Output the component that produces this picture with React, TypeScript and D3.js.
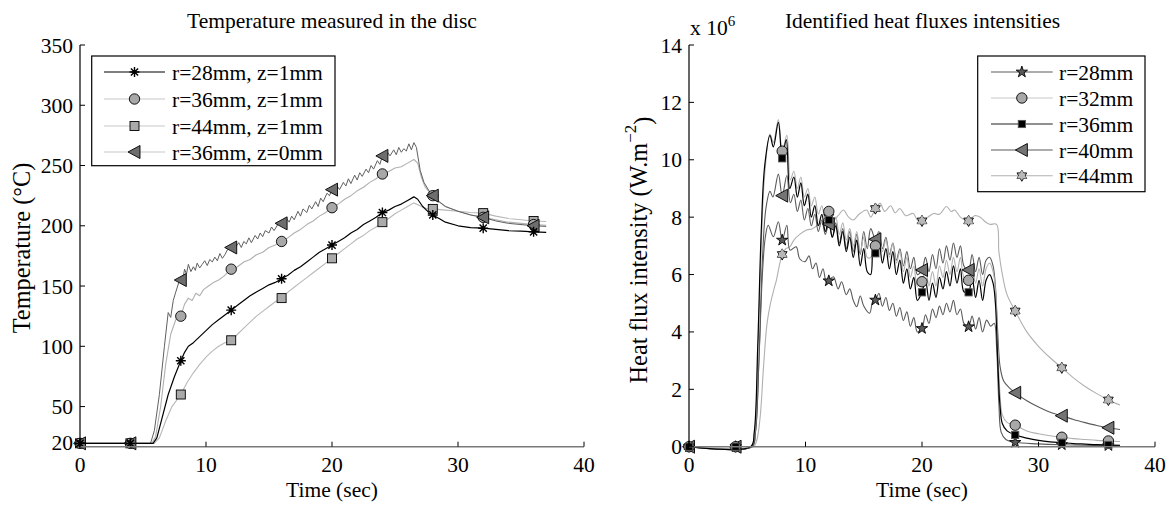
import React from "react";
import * as d3 from "d3";

type Pt = [number, number];

// ---------- Left chart: temperatures ----------
const markerTimes = [0, 4, 8, 12, 16, 20, 24, 28, 32, 36];
const leftYTicks = [20, 50, 100, 150, 200, 250, 300, 350];
const xTicks = [0, 10, 20, 30, 40];
const rightYTicks = [0, 2, 4, 6, 8, 10, 12, 14];

const tempLabels = ["r=28mm, z=1mm", "r=36mm, z=1mm", "r=44mm, z=1mm", "r=36mm, z=0mm"];

const tempR28z1: Pt[] = [[0,19.5],[5.8,19.5],[6.1,24],[6.5,40],[7,60],[7.5,75],[8,88],[8.3,95],[8.6,100],[9,103],[9.5,108],[10,113],[10.5,118],[11,122],[11.5,126],[12,130],[12.5,134],[13,138],[13.5,142],[14,145],[14.5,148],[15,151],[15.5,153],[16,156],[16.5,159],[17,163],[17.5,166],[18,170],[18.5,174],[19,178],[19.5,181],[20,184],[20.5,187],[21,190],[21.5,194],[22,197],[22.5,201],[23,204],[23.5,207],[24,211],[24.5,213],[25,216],[25.5,218],[26,221],[26.5,224],[26.8,222],[27.2,216],[27.6,212],[28,209],[28.5,206],[29,203],[30,200],[31,198.5],[32,198],[33,197],[34,196],[35,195.5],[36,195],[37,194.6]];
const tempR36z1: Pt[] = [[0,19.5],[5.7,19.5],[6.0,25],[6.4,50],[6.8,85],[7.2,110],[7.6,122],[8,125],[8.3,135],[8.6,140],[8.9,138],[9.2,144],[9.5,142],[9.8,147],[10.2,150],[10.6,153],[11,155],[11.4,158],[11.8,162],[12,164],[12.5,166],[13,170],[13.5,172],[14,176],[14.5,178],[15,182],[15.5,184],[16,187],[16.5,190],[17,194],[17.5,197],[18,201],[18.5,204],[19,208],[19.5,211],[20,215],[20.5,218],[21,222],[21.5,225],[22,229],[22.5,232],[23,236],[23.5,239],[24,243],[24.5,245],[25,248],[25.5,249],[26,252],[26.5,255],[26.8,252],[27.1,240],[27.4,232],[27.8,227],[28,225],[28.5,220],[29,216],[30,212],[31,209],[32,207],[33,205],[34,203],[35,202],[36,201],[37,200.5]];
const tempR44z1: Pt[] = [[0,19.5],[5.9,19.5],[6.3,24],[6.8,38],[7.3,50],[8,60],[8.5,70],[9,78],[9.5,85],[10,91],[10.5,96],[11,100],[11.5,103],[12,105],[12.5,110],[13,115],[13.5,120],[14,125],[14.5,129],[15,133],[15.5,137],[16,140],[16.5,145],[17,149],[17.5,153],[18,157],[18.5,161],[19,165],[19.5,169],[20,173],[20.5,177],[21,181],[21.5,185],[22,189],[22.5,192],[23,196],[23.5,199],[24,203],[24.5,206],[25,210],[25.5,213],[26,216],[26.5,219],[26.9,217],[27.3,215],[27.7,214],[28,214],[29,213],[30,212],[31,211],[32,210.5],[33,208],[34,206],[35,205],[36,204],[37,203.5]];
const tempR36z0: Pt[] = [[0,19.5],[5.6,19.5],[5.9,30],[6.3,60],[6.7,100],[7.0,128],[7.2,124],[7.4,138],[7.6,145],[7.9,155],[8.1,152],[8.3,164],[8.45,160],[8.6,168],[8.8,162],[9.0,166],[9.15,163],[9.3,169],[9.5,165],[9.7,168],[9.9,171],[10.1,167],[10.3,172],[10.5,170],[10.7,174],[10.9,171],[11.1,177],[11.3,173],[11.5,176],[11.7,180],[12,182],[12.2,178],[12.4,183],[12.6,186],[12.8,182],[13.0,187],[13.2,185],[13.4,190],[13.6,186],[13.9,192],[14.1,189],[14.3,194],[14.5,191],[14.7,196],[15,194],[15.2,199],[15.4,196],[15.7,201],[16,202],[16.2,200],[16.4,206],[16.6,203],[16.8,208],[17.0,205],[17.3,212],[17.5,208],[17.7,214],[18.0,211],[18.2,217],[18.4,214],[18.7,220],[18.9,216],[19.1,223],[19.3,220],[19.6,227],[19.8,225],[20,230],[20.2,227],[20.4,233],[20.6,230],[20.9,236],[21.1,233],[21.3,239],[21.5,235],[21.8,242],[22.0,238],[22.2,244],[22.4,241],[22.7,247],[22.9,244],[23.1,250],[23.3,247],[23.6,254],[23.8,251],[24,258],[24.2,255],[24.4,261],[24.6,258],[24.9,263],[25.1,259],[25.3,265],[25.5,261],[25.7,264],[25.9,262],[26.1,268],[26.3,263],[26.5,269],[26.7,265],[27.0,246],[27.3,236],[27.7,229],[28,225],[28.5,220],[29,216],[30,212],[31,209],[32,207],[33,204],[34,202],[35,201],[36,200],[37,199.5]];

const tempMarkR28z1 = [19.5, 19.5, 88, 130, 156, 184, 211, 209, 198, 195];
const tempMarkR36z1 = [19.5, 19.5, 125, 164, 187, 215, 243, 225, 207, 201];
const tempMarkR44z1 = [19.5, 19.5, 60, 105, 140, 173, 203, 214, 210.5, 204];
const tempMarkR36z0 = [19.5, 19.5, 155, 182, 202, 230, 258, 225, 207, 200];

// ---------- Right chart: heat fluxes (x 10^6) ----------
const fluxLabels = ["r=28mm", "r=32mm", "r=36mm", "r=40mm", "r=44mm"];

const fluxR28: Pt[] = [[0,0],[5.4,0],[5.7,0.5],[6.0,3],[6.3,6.0],[6.55,7.3],[6.8,7.72],[7.24,7.32],[7.67,7.84],[8.0,7.2],[8.4,7.72],[8.67,6.85],[9.2,6.97],[9.5,6.55],[9.97,6.45],[10.3,6.65],[10.6,6.2],[10.9,6.4],[11.2,5.9],[11.5,6.2],[11.8,5.7],[12.0,5.78],[12.4,5.92],[12.8,5.5],[13.1,5.75],[13.5,5.3],[13.8,5.5],[14.1,5.1],[14.4,4.88],[14.7,5.25],[15.0,4.9],[15.5,4.65],[15.8,5.1],[16.0,5.11],[16.3,5.35],[16.6,4.9],[16.9,5.2],[17.2,4.75],[17.5,5.0],[17.8,4.55],[18.1,4.85],[18.4,4.4],[18.7,4.7],[19.0,4.2],[19.3,4.5],[19.6,4.0],[20.0,4.12],[20.3,4.6],[20.6,4.3],[20.9,4.8],[21.2,4.5],[21.5,4.9],[21.8,4.6],[22.1,5.0],[22.4,4.7],[22.7,5.1],[23.0,4.6],[23.3,4.8],[23.6,4.3],[24.0,4.18],[24.3,4.55],[24.6,4.1],[24.9,4.5],[25.2,4.0],[25.55,4.41],[25.9,4.2],[26.2,4.3],[26.4,3.5],[26.6,1.5],[26.8,0.5],[27.2,0.25],[28,0.15],[30,0.1],[32,0.07],[34,0.05],[36,0.04],[37,0.04]];
const fluxR32: Pt[] = [[0,0],[5.3,0],[5.6,0.4],[5.9,3],[6.2,7],[6.5,9.5],[6.95,10.9],[7.24,10.6],[7.67,11.4],[8.0,10.3],[8.4,10.85],[8.7,9.3],[9.0,9.6],[9.3,9.0],[9.6,9.4],[9.9,8.7],[10.2,9.0],[10.5,8.4],[10.8,8.7],[11.1,8.1],[11.4,8.4],[11.7,7.9],[12.0,8.2],[12.3,7.7],[12.6,8.0],[12.9,7.4],[13.2,7.8],[13.5,7.2],[13.8,7.6],[14.1,7.0],[14.4,7.5],[14.7,6.8],[15.0,7.3],[15.3,6.6],[15.6,6.6],[15.8,7.2],[16.0,7.0],[16.3,7.4],[16.6,6.8],[16.9,7.2],[17.2,6.6],[17.5,7.1],[17.8,6.4],[18.1,6.8],[18.4,6.1],[18.7,6.6],[19.0,5.9],[19.3,6.3],[19.6,5.6],[20.0,5.75],[20.3,6.2],[20.6,5.6],[20.9,6.1],[21.2,5.6],[21.5,6.3],[21.8,5.9],[22.1,6.5],[22.4,6.0],[22.7,6.6],[23.0,6.1],[23.3,6.6],[23.6,5.9],[24.0,5.8],[24.3,6.3],[24.6,5.7],[24.9,6.2],[25.2,5.6],[25.5,6.2],[25.8,6.4],[26.1,6.1],[26.3,5.5],[26.5,3.5],[26.7,1.8],[26.9,1.1],[27.3,0.85],[28,0.75],[29,0.55],[30,0.45],[31,0.38],[32,0.33],[33,0.28],[34,0.25],[35,0.22],[36,0.2],[37,0.18]];
const fluxR36: Pt[] = [[0,0],[5.3,0],[5.6,0.5],[5.9,3.5],[6.2,7.5],[6.5,9.8],[6.95,10.85],[7.24,10.45],[7.67,11.3],[8.0,10.1],[8.35,10.7],[8.65,9.0],[9.0,9.4],[9.3,8.7],[9.6,9.2],[9.9,8.4],[10.2,8.8],[10.5,8.0],[10.8,8.4],[11.1,7.7],[11.4,8.1],[11.7,7.5],[12.0,7.9],[12.3,7.3],[12.6,7.7],[12.9,7.0],[13.2,7.5],[13.5,6.8],[13.8,7.3],[14.1,6.6],[14.4,7.2],[14.7,6.3],[15.0,6.9],[15.3,6.1],[15.6,6.0],[15.8,6.9],[16.0,6.75],[16.3,7.2],[16.6,6.4],[16.9,6.9],[17.2,6.2],[17.5,6.8],[17.8,6.0],[18.1,6.5],[18.4,5.7],[18.7,6.2],[19.0,5.5],[19.3,5.9],[19.6,5.1],[20.0,5.4],[20.3,5.8],[20.6,5.1],[20.9,5.7],[21.2,5.2],[21.5,5.9],[21.8,5.5],[22.1,6.1],[22.4,5.6],[22.7,6.3],[23.0,5.7],[23.3,6.2],[23.6,5.4],[24.0,5.4],[24.3,5.9],[24.6,5.2],[24.9,5.8],[25.2,5.1],[25.5,5.8],[25.8,6.0],[26.1,5.7],[26.3,5.0],[26.5,3.0],[26.7,1.4],[26.9,0.8],[27.3,0.55],[28,0.41],[29,0.3],[30,0.22],[31,0.17],[32,0.14],[33,0.11],[34,0.09],[35,0.07],[36,0.06],[37,0.05]];
const fluxR40: Pt[] = [[0,0],[5.4,0],[5.7,0.5],[6.0,3],[6.3,6.5],[6.6,8.3],[6.95,8.9],[7.2,8.7],[7.67,9.5],[8.0,8.75],[8.4,9.45],[8.7,8.5],[9.0,8.8],[9.3,8.2],[9.6,8.6],[9.9,7.9],[10.2,8.3],[10.5,7.7],[10.8,8.1],[11.1,7.5],[11.4,7.9],[11.7,7.4],[12.0,7.76],[12.3,7.3],[12.6,7.8],[12.9,7.1],[13.2,7.6],[13.5,6.9],[13.8,7.5],[14.1,6.8],[14.4,7.4],[14.7,6.7],[15.0,7.5],[15.3,6.9],[15.6,7.6],[16.0,7.23],[16.3,7.5],[16.6,6.9],[16.9,7.3],[17.2,6.7],[17.5,7.1],[17.8,6.5],[18.1,6.9],[18.4,6.3],[18.7,6.8],[19.0,6.2],[19.3,6.6],[19.6,6.0],[20.0,6.16],[20.3,6.6],[20.6,6.1],[20.9,6.7],[21.2,6.2],[21.5,6.9],[21.8,6.4],[22.1,7.0],[22.4,6.5],[22.7,7.1],[23.0,6.6],[23.3,7.0],[23.6,6.3],[24.0,6.16],[24.3,6.7],[24.6,6.1],[24.9,6.6],[25.2,6.0],[25.5,6.5],[25.8,6.6],[26.1,6.3],[26.3,5.6],[26.5,4.0],[26.7,2.8],[27.0,2.3],[27.5,2.05],[28,1.88],[29,1.6],[30,1.38],[31,1.2],[32,1.08],[33,0.95],[34,0.84],[35,0.74],[36,0.66],[37,0.6]];
const fluxR44: Pt[] = [[0,0],[5.5,0],[5.8,0.2],[6.1,1.0],[6.4,2.8],[6.7,4.3],[7.0,5.0],[7.3,5.5],[7.5,5.8],[7.8,6.4],[8.0,6.7],[8.3,6.9],[8.67,6.97],[9.0,7.2],[9.5,7.4],[10.1,7.55],[10.6,7.6],[11.25,7.78],[11.8,7.85],[12.4,7.9],[12.8,8.05],[13.25,8.25],[13.7,8.0],[14.1,7.9],[14.6,8.1],[15.25,8.25],[15.6,8.0],[16.0,8.3],[16.4,8.48],[16.8,8.2],[17.3,8.4],[17.7,8.15],[18.1,8.3],[18.6,8.05],[19.25,8.13],[19.6,7.9],[20.0,7.87],[20.5,8.0],[21.0,8.13],[21.5,8.1],[22.1,8.37],[22.5,8.2],[22.8,8.25],[23.3,8.0],[23.7,7.9],[24.0,7.87],[24.5,8.05],[25.0,8.0],[25.4,7.85],[25.8,7.75],[26.4,7.75],[26.6,6.8],[26.9,6.0],[27.3,5.3],[28,4.73],[29,4.0],[30,3.5],[31,3.1],[32,2.75],[33,2.4],[34,2.1],[35,1.85],[36,1.63],[37,1.45]];

const fluxMarkR28 = [0, 0, 7.2, 5.78, 5.11, 4.12, 4.18, 0.15, 0.07, 0.04];
const fluxMarkR32 = [0, 0, 10.3, 8.2, 7.0, 5.75, 5.8, 0.75, 0.33, 0.2];
const fluxMarkR36 = [0, 0, 10.05, 7.9, 6.74, 5.38, 5.38, 0.41, 0.14, 0.06];
const fluxMarkR40 = [0, 0, 8.75, 7.76, 7.23, 6.16, 6.16, 1.88, 1.08, 0.66];
const fluxMarkR44 = [0, 0, 6.7, 8.0, 8.3, 7.87, 7.87, 4.73, 2.75, 1.63];

const FONT = "'Liberation Serif', 'Times New Roman', Times, serif";
const FS = 21.5;

// ---------- marker shapes ----------
function MarkerShape({ kind, x, y, fill }: { kind: string; x: number; y: number; fill: string }) {
  const t = `translate(${x},${y})`;
  if (kind === "asterisk") {
    const r = 5;
    const d = `M${-r},0L${r},0M0,${-r}L0,${r}M${-r * 0.72},${-r * 0.72}L${r * 0.72},${r * 0.72}M${-r * 0.72},${r * 0.72}L${r * 0.72},${-r * 0.72}`;
    return (
      <g transform={t}>
        <circle r={2} fill="#222" />
        <path d={d} stroke="#000" strokeWidth={1.4} fill="none" />
      </g>
    );
  }
  if (kind === "circle") return <circle transform={t} r={5.2} fill={fill} stroke="#000" strokeWidth={0.9} />;
  if (kind === "square") return <rect transform={t} x={-4.5} y={-4.5} width={9} height={9} fill={fill} stroke="#000" strokeWidth={0.9} />;
  if (kind === "squareSmall") return <rect transform={t} x={-3.6} y={-3.6} width={7.2} height={7.2} fill={fill} stroke="#555" strokeWidth={0.9} />;
  if (kind === "left") return <path transform={t} d="M-6.5,0L5.5,-6.5L5.5,6.5Z" fill={fill} stroke="#000" strokeWidth={0.9} />;
  if (kind === "star5") return <path transform={t} d={d3.symbol(d3.symbolStar, 40)() || ""} fill={fill} stroke="#000" strokeWidth={0.9} />;
  if (kind === "hexagram") {
    const r = 5.6;
    const tri = (off: number) =>
      d3.range(3).map((i) => {
        const a = off + (i * 2 * Math.PI) / 3;
        return [r * Math.sin(a), -r * Math.cos(a)];
      });
    const a = tri(0), b = tri(Math.PI);
    const d1 = "M" + a.map((p) => p.join(",")).join("L") + "Z";
    const d2 = "M" + b.map((p) => p.join(",")).join("L") + "Z";
    return (
      <g transform={t}>
        <path d={d1} fill={fill} stroke="#000" strokeWidth={0.9} />
        <path d={d2} fill={fill} stroke="#000" strokeWidth={0.9} />
        <path d={d1} fill={fill} stroke="none" />
      </g>
    );
  }
  return null;
}

type Series = { data: Pt[]; marks: number[]; color: string; width: number; marker: string; mfill: string; legendColor: string; label: string };

const leftSeries: Series[] = [
  { data: tempR44z1, marks: tempMarkR44z1, color: "#b8b8b8", width: 1.1, marker: "square", mfill: "#aaaaaa", legendColor: "#c8c8c8", label: tempLabels[2] },
  { data: tempR36z1, marks: tempMarkR36z1, color: "#b0b0b0", width: 1.1, marker: "circle", mfill: "#a8a8a8", legendColor: "#c8c8c8", label: tempLabels[1] },
  { data: tempR36z0, marks: tempMarkR36z0, color: "#606060", width: 1.0, marker: "left", mfill: "#6e6e6e", legendColor: "#c8c8c8", label: tempLabels[3] },
  { data: tempR28z1, marks: tempMarkR28z1, color: "#000000", width: 1.2, marker: "asterisk", mfill: "#222", legendColor: "#000", label: tempLabels[0] },
];
const leftLegendOrder = [3, 1, 0, 2];

const rightSeries: Series[] = [
  { data: fluxR44, marks: fluxMarkR44, color: "#b0b0b0", width: 1.1, marker: "hexagram", mfill: "#b8b8b8", legendColor: "#b0b0b0", label: fluxLabels[4] },
  { data: fluxR28, marks: fluxMarkR28, color: "#5a5a5a", width: 1.1, marker: "star5", mfill: "#5a5a5a", legendColor: "#5a5a5a", label: fluxLabels[0] },
  { data: fluxR40, marks: fluxMarkR40, color: "#5a5a5a", width: 1.1, marker: "left", mfill: "#747474", legendColor: "#5a5a5a", label: fluxLabels[3] },
  { data: fluxR32, marks: fluxMarkR32, color: "#b0b0b0", width: 1.1, marker: "circle", mfill: "#a8a8a8", legendColor: "#c8c8c8", label: fluxLabels[1] },
  { data: fluxR36, marks: fluxMarkR36, color: "#000000", width: 1.2, marker: "squareSmall", mfill: "#000", legendColor: "#222", label: fluxLabels[2] },
];
const rightLegendOrder = [1, 3, 4, 2, 0];

function Panel({
  x, y, series, yTicks, title, titleX, ylabel, legend, smooth,
}: {
  x: d3.ScaleLinear<number, number>;
  y: d3.ScaleLinear<number, number>;
  series: Series[];
  yTicks: number[];
  title: string;
  titleX: number;
  ylabel: React.ReactNode;
  legend: { order: number[]; box: [number, number, number, number]; rows: number[]; lx: [number, number]; tx: number };
  smooth: boolean;
}) {
  const line = d3.line<Pt>().x((d) => x(d[0])).y((d) => y(d[1])).curve(smooth ? d3.curveCatmullRom.alpha(0.5) : d3.curveLinear);
  const [x0, x1] = x.range();
  const [yb, yt] = y.range();
  const [bx0, by0, bx1, by1] = legend.box;
  return (
    <g>
      {series.map((s, i) => (
        <path key={"l" + i} d={line(s.data) || ""} fill="none" stroke={s.color} strokeWidth={s.width} strokeLinejoin="round" />
      ))}
      {series.map((s, i) => (
        <g key={"m" + i}>
          {markerTimes.map((t, j) => (
            <MarkerShape key={j} kind={s.marker} x={x(t)} y={y(s.marks[j])} fill={s.mfill} />
          ))}
        </g>
      ))}
      {/* axes */}
      <line x1={x0} x2={x1} y1={yb} y2={yb} stroke="#7a7a7a" strokeWidth={1.6} />
      <line x1={x0} x2={x0} y1={yb} y2={yt} stroke="#000" strokeWidth={1.2} />
      {yTicks.map((v) => (
        <g key={"yt" + v}>
          <line x1={x0} x2={x0 + 5} y1={y(v)} y2={y(v)} stroke="#000" strokeWidth={1} />
          <text x={x0 - 7} y={y(v)} dy="0.35em" textAnchor="end" fontSize={FS} fontFamily={FONT} fill="#000">{v}</text>
        </g>
      ))}
      {xTicks.map((v) => (
        <g key={"xt" + v}>
          <line x1={x(v)} x2={x(v)} y1={yb} y2={yb - 5} stroke="#000" strokeWidth={1} />
          <text x={x(v)} y={471.5} textAnchor="middle" fontSize={FS} fontFamily={FONT} fill="#000">{v}</text>
        </g>
      ))}
      <text x={titleX} y={28} textAnchor="middle" fontSize={FS} fontFamily={FONT} fill="#000">{title}</text>
      <text x={(x0 + x1) / 2} y={497} textAnchor="middle" fontSize={FS} fontFamily={FONT} fill="#000">Time (sec)</text>
      {ylabel}
      {/* legend */}
      <rect x={bx0} y={by0} width={bx1 - bx0} height={by1 - by0} fill="#fff" stroke="#000" strokeWidth={1.2} />
      {legend.order.map((si, k) => {
        const s = series[si];
        const ry = legend.rows[k];
        return (
          <g key={"lg" + k}>
            <line x1={legend.lx[0]} x2={legend.lx[1]} y1={ry} y2={ry} stroke={s.legendColor} strokeWidth={1.1} />
            <MarkerShape kind={s.marker} x={(legend.lx[0] + legend.lx[1]) / 2} y={ry} fill={s.mfill} />
            <text x={legend.tx} y={ry} dy="0.35em" fontSize={FS} fontFamily={FONT} fill="#000">{s.label}</text>
          </g>
        );
      })}
    </g>
  );
}

export default function App() {
  const xL = d3.scaleLinear().domain([0, 40]).range([80, 584]);
  const yL = d3.scaleLinear().domain([16.7, 350]).range([446.7, 45]);
  const xR = d3.scaleLinear().domain([0, 40]).range([689, 1155]);
  const yR = d3.scaleLinear().domain([0, 14]).range([446.7, 45]);
  return (
    <svg width={1174} height={506} style={{ position: "absolute", left: 0, top: 0, background: "#fff" }}>
      <rect width={1174} height={506} fill="#fff" />
      <Panel
        x={xL}
        y={yL}
        series={leftSeries}
        yTicks={leftYTicks}
        title="Temperature measured in the disc"
        titleX={332}
        smooth={false}
        ylabel={
          <text transform="translate(21,248) rotate(-90)" dy="0.35em" textAnchor="middle" fontSize={24.3} fontFamily={FONT} fill="#000">Temperature (°C)</text>
        }
        legend={{ order: leftLegendOrder, box: [91.7, 56, 335, 165.7], rows: [72, 99, 126, 152], lx: [104, 165], tx: 172 }}
      />
      <Panel
        x={xR}
        y={yR}
        series={rightSeries}
        yTicks={rightYTicks}
        title="Identified heat fluxes intensities"
        titleX={922.5}
        smooth={true}
        ylabel={
          <text transform="translate(638,250) rotate(-90)" dy="0.35em" textAnchor="middle" fontSize={24.3} fontFamily={FONT} fill="#000">
            Heat flux intensity (W.m<tspan dy="-0.6em" fontSize={17}>−2</tspan><tspan dy="0.6em">)</tspan>
          </text>
        }
        legend={{ order: rightLegendOrder, box: [977.7, 56, 1145, 191.7], rows: [72, 98, 124, 150, 175.7], lx: [991, 1052.7], tx: 1059 }}
      />
      <text x={690} y={35} fontSize={FS} fontFamily={FONT} fill="#000">
        x 10<tspan dy="-9" fontSize={15}>6</tspan>
      </text>
    </svg>
  );
}
